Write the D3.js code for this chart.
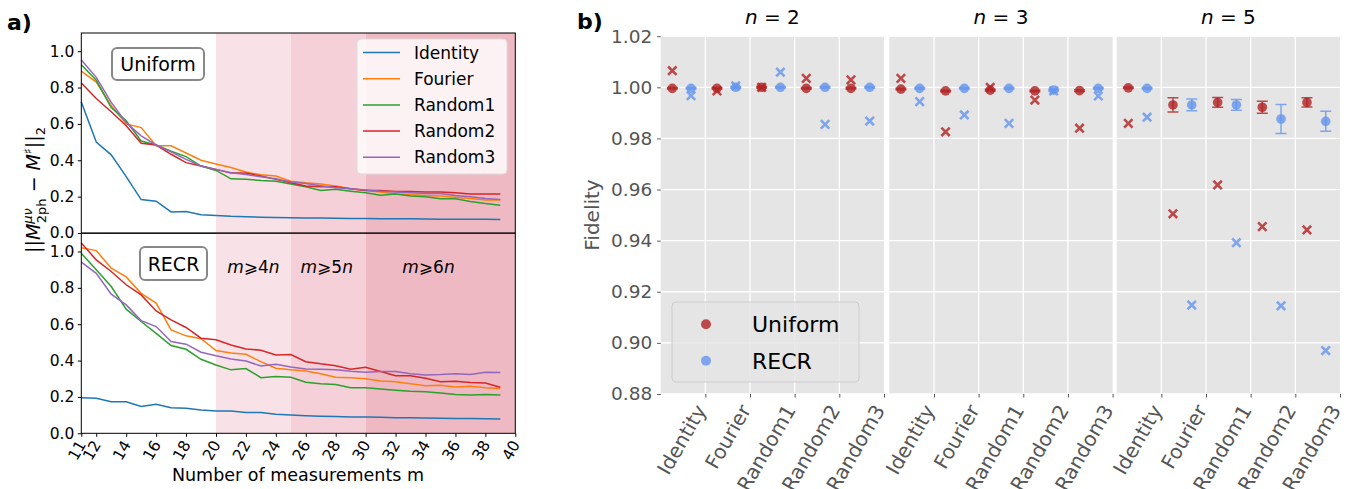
<!DOCTYPE html>
<html>
<head>
<meta charset="utf-8">
<script src="https://d3js.org/d3.v7.min.js"></script>
<style>
  body { margin: 0; background: #fff; }
  svg text { font-family: "DejaVu Sans", sans-serif; }
</style>
</head>
<body>
<div id="chart"></div>
<script>
// 1: DATA
// panel a) : error vs number of measurements m
const mValues = [11,12,13,14,15,16,17,18,19,20,21,22,23,24,25,26,27,28,29,30,31,32,33,34,35,36,37,38,39];
const mTicks = [11,12,14,16,18,20,22,24,26,28,30,32,34,36,38,40];
const seriesNames = ["Identity", "Fourier", "Random1", "Random2", "Random3"];
const seriesColors = ["#1f77b4", "#ff7f0e", "#2ca02c", "#d62728", "#9467bd"];

const uniformIdentity = [0.72,0.50,0.43,0.31,0.184,0.175,0.116,0.118,0.10,0.096,0.092,0.09,0.087,0.085,0.084,0.083,0.082,0.081,0.080,0.080,0.079,0.078,0.078,0.077,0.076,0.076,0.075,0.075,0.074];
const uniformFourier  = [0.89,0.83,0.70,0.60,0.58,0.48,0.48,0.44,0.40,0.38,0.36,0.335,0.32,0.313,0.285,0.276,0.27,0.258,0.243,0.234,0.225,0.215,0.21,0.206,0.203,0.197,0.19,0.182,0.182];
const uniformRandom1  = [0.925,0.84,0.69,0.617,0.506,0.484,0.45,0.42,0.368,0.344,0.298,0.295,0.289,0.285,0.27,0.254,0.234,0.24,0.23,0.221,0.208,0.215,0.203,0.2,0.188,0.188,0.173,0.162,0.153];
const uniformRandom2  = [0.825,0.74,0.667,0.59,0.494,0.484,0.433,0.387,0.368,0.35,0.33,0.33,0.313,0.295,0.276,0.258,0.254,0.254,0.243,0.234,0.234,0.228,0.228,0.226,0.225,0.221,0.215,0.215,0.215];
const uniformRandom3  = [0.952,0.856,0.718,0.607,0.534,0.484,0.446,0.405,0.368,0.35,0.331,0.322,0.31,0.298,0.28,0.272,0.26,0.249,0.243,0.236,0.23,0.225,0.221,0.217,0.217,0.206,0.2,0.19,0.184];

const recrIdentity = [0.196,0.193,0.174,0.174,0.147,0.16,0.141,0.138,0.128,0.123,0.123,0.114,0.114,0.105,0.101,0.097,0.094,0.092,0.09,0.09,0.088,0.086,0.085,0.084,0.083,0.082,0.081,0.080,0.079];
const recrFourier  = [1.02,1.005,0.908,0.86,0.77,0.716,0.569,0.536,0.52,0.455,0.442,0.435,0.394,0.358,0.349,0.343,0.327,0.308,0.305,0.30,0.288,0.283,0.273,0.262,0.264,0.255,0.259,0.25,0.246];
const recrRandom1  = [0.99,0.90,0.807,0.683,0.615,0.55,0.483,0.462,0.407,0.376,0.349,0.356,0.306,0.312,0.308,0.281,0.272,0.268,0.25,0.251,0.244,0.237,0.231,0.228,0.222,0.213,0.211,0.213,0.211];
const recrRandom2  = [1.046,0.954,0.89,0.817,0.761,0.673,0.624,0.582,0.523,0.514,0.486,0.464,0.457,0.431,0.433,0.394,0.382,0.372,0.352,0.363,0.34,0.317,0.317,0.303,0.283,0.286,0.279,0.277,0.253];
const recrRandom3  = [0.941,0.88,0.765,0.706,0.62,0.587,0.505,0.49,0.446,0.426,0.409,0.398,0.37,0.38,0.365,0.354,0.352,0.349,0.341,0.336,0.34,0.34,0.328,0.321,0.323,0.328,0.323,0.336,0.334];

// shaded regimes m >= 4n, 5n, 6n (n = 5)
const regimeStarts = [20, 25, 30];
const regimeEnds = [25, 30, 40];
const regimeLabels = ["4", "5", "6"];
const regimeLabelAt = [22.5, 27.4, 34.2];

// panel b) : fidelity per basis and n
const bases = ["Identity", "Fourier", "Random1", "Random2", "Random3"];
const nValues = ["2", "3", "5"];
const yTicksB = [0.88, 0.90, 0.92, 0.94, 0.96, 0.98, 1.00, 1.02];

const uniMean2 = [0.9996, 0.9996, 1.0000, 0.9996, 0.9996];
const uniErr2  = [0.0003, 0.0003, 0.0003, 0.0003, 0.0003];
const uniCross2 = [1.0065, 0.9986, 1.0000, 1.0035, 1.0029];
const recMean2 = [0.9996, 1.0000, 1.0000, 1.0000, 1.0000];
const recErr2  = [0.0003, 0.0003, 0.0003, 0.0003, 0.0003];
const recCross2 = [0.9967, 1.0006, 1.0059, 0.9855, 0.9868];

const uniMean3 = [0.9993, 0.9986, 0.9989, 0.9986, 0.9987];
const uniErr3  = [0.0003, 0.0003, 0.0003, 0.0003, 0.0003];
const uniCross3 = [1.0035, 0.9826, 1.0000, 0.9950, 0.9840];
const recMean3 = [0.9996, 0.9996, 0.9996, 0.9989, 0.9996];
const recErr3  = [0.0003, 0.0003, 0.0003, 0.0003, 0.0003];
const recCross3 = [0.9944, 0.9892, 0.9859, 0.9986, 0.9966];

const uniMean5 = [0.9998, 0.9931, 0.9941, 0.9922, 0.9941];
const uniErr5  = [0.0003, 0.0028, 0.0019, 0.0023, 0.0018];
const uniCross5 = [0.9859, 0.9505, 0.9618, 0.9455, 0.9442];
const recMean5 = [0.9996, 0.9931, 0.9931, 0.9876, 0.9867];
const recErr5  = [0.0003, 0.0023, 0.0021, 0.0057, 0.0039];
const recCross5 = [0.9883, 0.9148, 0.9392, 0.9145, 0.8970];

// 2: SVG
const svg = d3.select("#chart").append("svg")
    .attr("width", 1360)
    .attr("height", 489);

// ---------------- PANEL a) ----------------
const aLeft = 81.3, aRight = 515.3;
const x = d3.scaleLinear().domain([11, 40]).range([aLeft, aRight]);
const yTop = d3.scaleLinear().domain([0, 1.1]).range([233, 33]);
const yBot = d3.scaleLinear().domain([0, 1.1]).range([433.3, 233.3]);
const regimeFills = ["#f9e2e7", "#f5d0d8", "#efb9c3"];

const panels = [
    { y: yTop, data: [uniformIdentity, uniformFourier, uniformRandom1, uniformRandom2, uniformRandom3] },
    { y: yBot, data: [recrIdentity, recrFourier, recrRandom1, recrRandom2, recrRandom3] }
];

panels.forEach((p, pi) => {
    const g = svg.append("g");
    const [y0, y1] = p.y.range();

    // shaded regions
    regimeStarts.forEach((s, i) => {
        g.append("rect")
            .attr("x", x(s)).attr("width", x(regimeEnds[i]) - x(s))
            .attr("y", y1).attr("height", y0 - y1)
            .attr("fill", regimeFills[i]);
    });

    const line = d3.line()
        .x((d, i) => x(mValues[i]))
        .y(d => p.y(d));

    p.data.forEach((vals, si) => {
        g.append("path")
            .datum(vals)
            .attr("d", line)
            .attr("fill", "none")
            .attr("stroke", seriesColors[si])
            .attr("stroke-width", 1.5);
    });

    // y axis
    const yAxis = g.append("g")
        .attr("transform", `translate(${aLeft},0)`)
        .call(d3.axisLeft(p.y).tickValues([0, 0.2, 0.4, 0.6, 0.8, 1.0]).tickFormat(d3.format(".1f")).tickSizeOuter(0).tickSize(3.5).tickPadding(3.5));
    yAxis.select(".domain").remove();
    yAxis.selectAll("text").attr("font-size", 15.5).attr("fill", "#000");

    // frame
    g.append("rect")
        .attr("x", aLeft).attr("y", y1)
        .attr("width", aRight - aLeft).attr("height", y0 - y1)
        .attr("fill", "none").attr("stroke", "#000").attr("stroke-width", 1);
});

// x axis for bottom panel
const xAxis = svg.append("g")
    .attr("transform", "translate(0,433.3)")
    .call(d3.axisBottom(x).tickValues(mTicks).tickFormat(d3.format("d")).tickSize(3.5).tickSizeOuter(0));
xAxis.select(".domain").remove();
xAxis.selectAll("text")
    .attr("font-size", 15.5)
    .attr("fill", "#000")
    .attr("text-anchor", "end")
    .attr("transform", "translate(2,5) rotate(-60)")
    .attr("dy", "0.35em")
    .attr("y", 0).attr("x", -4);

svg.append("text")
    .attr("x", 298).attr("y", 481)
    .attr("text-anchor", "middle")
    .attr("font-size", 17.5)
    .text("Number of measurements m");

// y label (rotated)
const yl = svg.append("text")
    .attr("transform", "translate(40,190) rotate(-90)")
    .attr("text-anchor", "middle")
    .attr("font-size", 19);
yl.append("tspan").text("||");
yl.append("tspan").attr("font-style", "italic").text("M");
yl.append("tspan").attr("font-size", 13).attr("font-style", "italic").attr("dy", -8).text("μν");
yl.append("tspan").attr("font-size", 13).attr("dx", -15).attr("dy", 14).text("2ph");
yl.append("tspan").attr("dy", -6).text(" − ");
yl.append("tspan").attr("font-style", "italic").text("M");
yl.append("tspan").attr("font-size", 12).attr("dy", -8).text("♯");
yl.append("tspan").attr("dy", 8).text("||");
yl.append("tspan").attr("font-size", 13).attr("dy", 5).text("2");

// boxed labels
[{ t: "Uniform", x0: 112, y0: 48, w: 92, h: 32 }, { t: "RECR", x0: 140, y0: 247, w: 67, h: 33 }].forEach(b => {
    svg.append("rect")
        .attr("x", b.x0).attr("y", b.y0).attr("width", b.w).attr("height", b.h)
        .attr("rx", 5).attr("fill", "#fff").attr("stroke", "#888").attr("stroke-width", 2);
    svg.append("text")
        .attr("x", b.x0 + b.w / 2).attr("y", b.y0 + b.h / 2 + 7)
        .attr("text-anchor", "middle").attr("font-size", 19)
        .text(b.t);
});

// regime labels
regimeStarts.forEach((s, i) => {
    const t = svg.append("text")
        .attr("x", x(regimeLabelAt[i])).attr("y", 273)
        .attr("text-anchor", "middle")
        .attr("font-size", 17);
    t.append("tspan").attr("font-style", "italic").text("m");
    t.append("tspan").text("⩾" + regimeLabels[i]);
    t.append("tspan").attr("font-style", "italic").text("n");
});

// legend panel a)
const legA = svg.append("g");
legA.append("rect")
    .attr("x", 357).attr("y", 39).attr("width", 150).attr("height", 135)
    .attr("rx", 4).attr("fill", "#fff").attr("fill-opacity", 0.8)
    .attr("stroke", "#ddd");
seriesNames.forEach((s, i) => {
    const yy = 52.5 + i * 26.2;
    legA.append("line")
        .attr("x1", 363).attr("x2", 400).attr("y1", yy).attr("y2", yy)
        .attr("stroke", seriesColors[i]).attr("stroke-width", 1.5);
    legA.append("text")
        .attr("x", 414).attr("y", yy + 6)
        .attr("font-size", 17)
        .text(s);
});

svg.append("text")
    .attr("x", 7).attr("y", 30)
    .attr("font-size", 22).attr("font-weight", "bold")
    .text("a)");

// ---------------- PANEL b) ----------------
const facetLefts = [660.7, 889.3, 1116.7];
const facetW = 223.3;
const yB = d3.scaleLinear().domain([0.88, 1.02]).range([394, 36.2]);
const red = "#b22222", blue = "#6495ed";

const facetData = [
    { uni: uniMean2, uniE: uniErr2, uniX: uniCross2, rec: recMean2, recE: recErr2, recX: recCross2 },
    { uni: uniMean3, uniE: uniErr3, uniX: uniCross3, rec: recMean3, recE: recErr3, recX: recCross3 },
    { uni: uniMean5, uniE: uniErr5, uniX: uniCross5, rec: recMean5, recE: recErr5, recX: recCross5 }
];

facetLefts.forEach((fl, fi) => {
    const g = svg.append("g");
    const xf = d3.scaleLinear().domain([0, 5]).range([fl, fl + facetW]);
    const fd = facetData[fi];

    g.append("rect")
        .attr("x", fl).attr("y", yB.range()[1])
        .attr("width", facetW).attr("height", yB.range()[0] - yB.range()[1])
        .attr("fill", "#e5e5e5");

    // grid
    yTicksB.forEach(t => {
        g.append("line")
            .attr("x1", fl).attr("x2", fl + facetW)
            .attr("y1", yB(t)).attr("y2", yB(t))
            .attr("stroke", "#fff").attr("stroke-width", 1.3);
    });
    [1, 2, 3, 4].forEach(t => {
        g.append("line")
            .attr("x1", xf(t)).attr("x2", xf(t))
            .attr("y1", yB.range()[0]).attr("y2", yB.range()[1])
            .attr("stroke", "#fff").attr("stroke-width", 1.3);
    });

    // x axis
    const ax = g.append("g")
        .attr("transform", `translate(0,${yB.range()[0]})`)
        .call(d3.axisBottom(xf).tickValues([1, 2, 3, 4, 5]).tickFormat((d, i) => bases[i]).tickSize(3.5).tickSizeOuter(0));
    ax.select(".domain").remove();
    ax.selectAll("line").attr("stroke", "#555");
    ax.selectAll("text")
        .attr("font-size", 20)
        .attr("fill", "#555")
        .attr("text-anchor", "end")
        .attr("transform", "translate(-3,9) rotate(-60)")
        .attr("dy", "0.35em")
        .attr("y", 0).attr("x", -4);

    // y axis only for first facet
    if (fi === 0) {
        const ay = g.append("g")
            .attr("transform", `translate(${fl},0)`)
            .call(d3.axisLeft(yB).tickValues(yTicksB).tickFormat(d3.format(".2f")).tickSize(3.5).tickPadding(5).tickSizeOuter(0));
        ay.select(".domain").remove();
        ay.selectAll("line").attr("stroke", "#555");
        ay.selectAll("text").attr("font-size", 18.5).attr("fill", "#555");
    }

    // facet title
    const ft = g.append("text")
        .attr("x", fl + facetW / 2).attr("y", 24)
        .attr("text-anchor", "middle").attr("font-size", 20);
    ft.append("tspan").attr("font-style", "italic").text("n");
    ft.append("tspan").text(" = " + nValues[fi]);

    // markers
    const groups = [
        { mean: fd.uni, err: fd.uniE, cross: fd.uniX, color: red, off: 0.26 },
        { mean: fd.rec, err: fd.recE, cross: fd.recX, color: blue, off: 0.68 }
    ];
    groups.forEach(gr => {
        bases.forEach((b, i) => {
            const cx = xf(i + gr.off);
            // cross marker (worst case)
            const cy = yB(gr.cross[i]);
            const s = 4.2;
            g.append("path")
                .attr("d", `M${cx - s},${cy - s}L${cx + s},${cy + s}M${cx - s},${cy + s}L${cx + s},${cy - s}`)
                .attr("stroke", gr.color).attr("stroke-width", 2.6)
                .attr("stroke-opacity", 0.8);
            // error bar
            const e0 = yB(gr.mean[i] - gr.err[i]), e1 = yB(gr.mean[i] + gr.err[i]);
            g.append("path")
                .attr("d", `M${cx},${e0}L${cx},${e1}M${cx - 5.5},${e0}L${cx + 5.5},${e0}M${cx - 5.5},${e1}L${cx + 5.5},${e1}`)
                .attr("stroke", gr.color).attr("stroke-width", 1.5)
                .attr("stroke-opacity", 0.8).attr("fill", "none");
            // mean circle
            g.append("circle")
                .attr("cx", cx).attr("cy", yB(gr.mean[i])).attr("r", 4.8)
                .attr("fill", gr.color).attr("fill-opacity", 0.8);
        });
    });
});

svg.append("text")
    .attr("transform", "translate(599,215) rotate(-90)")
    .attr("text-anchor", "middle")
    .attr("font-size", 20).attr("fill", "#555")
    .text("Fidelity");

// legend panel b)
const legB = svg.append("g");
legB.append("rect")
    .attr("x", 672).attr("y", 302).attr("width", 187).attr("height", 80)
    .attr("rx", 4).attr("fill", "#e5e5e5").attr("fill-opacity", 0.8)
    .attr("stroke", "#cccccc");
[{ t: "Uniform", c: red }, { t: "RECR", c: blue }].forEach((d, i) => {
    const yy = 324.3 + i * 36.4;
    legB.append("circle").attr("cx", 706).attr("cy", yy).attr("r", 5)
        .attr("fill", d.c).attr("fill-opacity", 0.8);
    legB.append("text").attr("x", 752).attr("y", yy + 8)
        .attr("font-size", 22).text(d.t);
});

svg.append("text")
    .attr("x", 577).attr("y", 29)
    .attr("font-size", 22).attr("font-weight", "bold")
    .text("b)");
</script>
</body>
</html>
